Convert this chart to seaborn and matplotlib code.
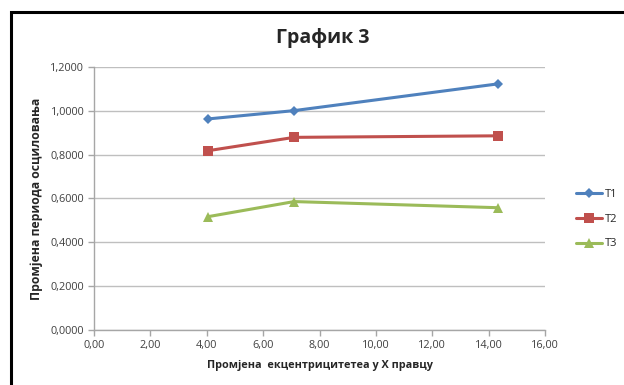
import pandas as pd
import seaborn as sns
import matplotlib.pyplot as plt
from matplotlib.ticker import FuncFormatter, MultipleLocator
from matplotlib.patches import Rectangle

# podaci ocitani sa grafika
ekscentricitet = [4.04, 7.10, 14.33]
t1 = [0.963, 1.001, 1.123]
t2 = [0.818, 0.879, 0.886]
t3 = [0.517, 0.586, 0.558]
serije = ['T1', 'T2', 'T3']

df = pd.DataFrame({
    'x': ekscentricitet * 3,
    'y': t1 + t2 + t3,
    'serija': [s for s in serije for _ in ekscentricitet],
})

boje = {'T1': '#4F81BD', 'T2': '#C0504D', 'T3': '#9BBB59'}
markeri = {'T1': 'D', 'T2': 's', 'T3': '^'}
velicine = {'T1': 5.5, 'T2': 7, 'T3': 7}

sns.set_style('white')
plt.rcParams['font.family'] = ['Open Sans', 'DejaVu Sans']

fig = plt.figure(figsize=(6.24, 3.85), dpi=100)
ax = fig.add_axes([94 / 624, 1 - 330 / 385, 451 / 624, 263 / 385])

for s in serije:
    sns.lineplot(
        data=df[df['serija'] == s],
        x='x',
        y='y',
        color=boje[s],
        marker=markeri[s],
        markersize=velicine[s],
        markeredgewidth=0,
        linewidth=2.2,
        label=s,
        ax=ax,
    )

ax.set_xlim(0, 16)
ax.set_ylim(0, 1.2)
ax.xaxis.set_major_locator(MultipleLocator(2))
ax.yaxis.set_major_locator(MultipleLocator(0.2))
ax.xaxis.set_major_formatter(FuncFormatter(lambda v, p: f'{v:.2f}'.replace('.', ',')))
ax.yaxis.set_major_formatter(FuncFormatter(lambda v, p: f'{v:.4f}'.replace('.', ',')))
ax.grid(axis='y', color='#BFBFBF', linewidth=1)
ax.grid(axis='x', visible=False)
ax.set_axisbelow(True)

for sp in ['top', 'right']:
    ax.spines[sp].set_visible(False)
for sp in ['left', 'bottom']:
    ax.spines[sp].set_color('#A6A6A6')
    ax.spines[sp].set_linewidth(1)

ax.tick_params(axis='both', which='major', direction='out', length=4, width=1,
               color='#A6A6A6', labelsize=7.8, labelcolor='#404040', pad=3)
ax.tick_params(axis='y', left=True)
ax.tick_params(axis='x', bottom=True)

ax.set_xlabel('Промјена  екцентрицитетеа у X правцу', fontsize=7.8,
              fontweight='bold', labelpad=7)
ax.set_ylabel('Промјена периода осциловања', fontsize=8.8,
              fontweight='bold', labelpad=5)

leg = ax.legend(loc='center left', bbox_to_anchor=(568 / 624, 1 - 219 / 385),
                bbox_transform=fig.transFigure, frameon=False, fontsize=8,
                handlelength=2.4, labelspacing=1.25, handletextpad=0.2,
                borderpad=0.2)

fig.text(323 / 624, 1 - 38 / 385, 'График 3', ha='center', va='center',
         fontsize=14, fontweight='bold')

# okvir oko grafika
fig.patches.append(Rectangle((10.5 / 624, -0.1), 1.2, 1 - 12 / 385 + 0.1,
                             transform=fig.transFigure, fill=False,
                             edgecolor='black', linewidth=2.2))

fig.savefig('out.png', dpi=100)
